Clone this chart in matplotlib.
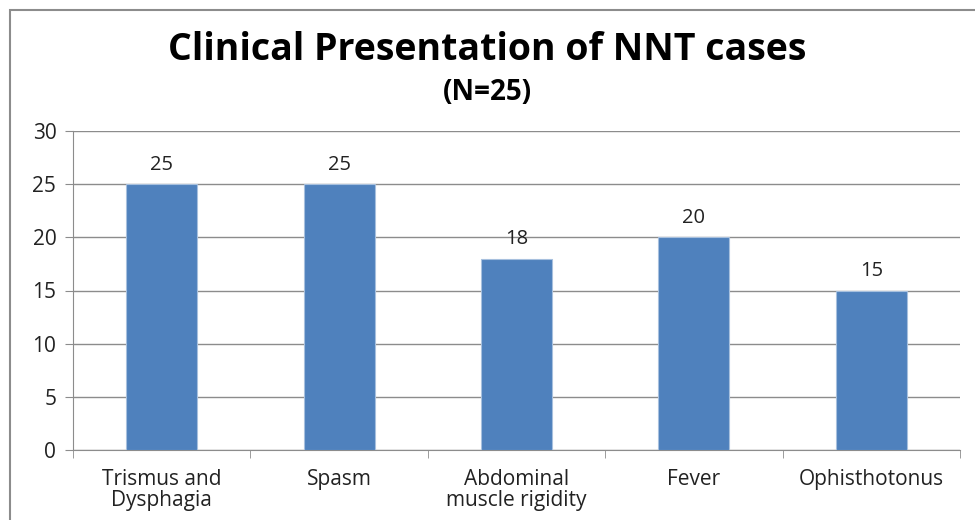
import matplotlib
matplotlib.use("Agg")
import matplotlib.pyplot as plt
from matplotlib.patches import Rectangle

categories = ["Trismus and\nDysphagia", "Spasm", "Abdominal\nmuscle rigidity", "Fever", "Ophisthotonus"]
values = [25, 25, 18, 20, 15]
yticks = [0, 5, 10, 15, 20, 25, 30]

plt.rcParams['font.family'] = ['Open Sans', 'DejaVu Sans']

fig = plt.figure(figsize=(9.75, 5.2), dpi=100)
ax = fig.add_axes([73/975, 1-450/520, (960-73)/975, (450-131)/520])

# outer frame of the chart
fig.patches.append(Rectangle((10/975, -0.1), 1.1, 1-10/520+0.1, transform=fig.transFigure,
                             fill=False, edgecolor='#8c8c8c', lw=1.5))

x = range(len(categories))
bars = ax.bar(x, values, width=0.4, color='#4F81BD', edgecolor='#A7C0DE', lw=0.8, zorder=3)
for xi, v in zip(x, values):
    ax.text(xi, v + 0.9, str(v), ha='center', va='bottom', fontsize=14.5, color='#222222')

ax.set_xlim(-0.5, len(categories) - 0.5)
ax.set_ylim(0, 30)
ax.set_yticks(yticks)
ax.set_xticks(x)
ax.set_xticklabels(categories, fontsize=15, color='#222222', linespacing=1.0)
ax.set_xticks([i - 0.5 for i in range(len(categories) + 1)], minor=True)
ax.tick_params(axis='x', which='major', length=0, pad=14)
ax.tick_params(axis='x', which='minor', length=6, color='#8c8c8c', direction='out')
ax.tick_params(axis='y', length=6, color='#8c8c8c', labelsize=15, labelcolor='#222222', pad=6)
ax.grid(axis='y', color='#8c8c8c', lw=1, zorder=0)
for s in ['top', 'right']:
    ax.spines[s].set_visible(False)
for s in ['left', 'bottom']:
    ax.spines[s].set_color('#8c8c8c')

fig.text(0.5, 1 - 50/520, "Clinical Presentation of NNT cases", ha='center', va='center',
         fontsize=27, fontweight='bold')
fig.text(0.5, 1 - 92/520, "(N=25)", ha='center', va='center', fontsize=20, fontweight='bold')

fig.savefig("out.png", dpi=100)
